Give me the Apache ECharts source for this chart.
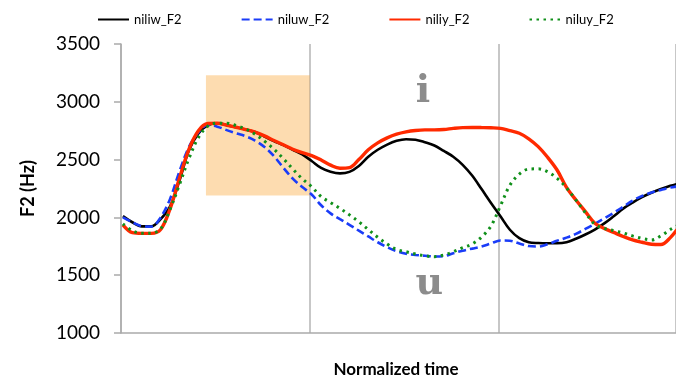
<!DOCTYPE html>
<html>
<head>
<meta charset="utf-8">
<script src="https://cdn.jsdelivr.net/npm/echarts@6/dist/echarts.min.js"></script>
<style>
  html, body { margin: 0; padding: 0; background: #fff; }
  #chart { width: 676px; height: 382px; }
</style>
</head>
<body>
<div id="chart"></div>
<script>
// Normalized time: each vowel segment spans one unit (boundaries at 1 and 2)
const time = [
  0.01, 0.06, 0.11, 0.16, 0.21, 0.26, 0.31, 0.36, 0.41, 0.46,
  0.51, 0.56, 0.61, 0.66, 0.71, 0.76, 0.81, 0.86, 0.91, 0.96,
  1.01, 1.06, 1.11, 1.16, 1.21, 1.26, 1.31, 1.36, 1.41, 1.46,
  1.51, 1.56, 1.61, 1.66, 1.71, 1.76, 1.81, 1.86, 1.91, 1.96,
  2.01, 2.06, 2.11, 2.16, 2.21, 2.26, 2.31, 2.36, 2.41, 2.46,
  2.51, 2.56, 2.61, 2.66, 2.71, 2.76, 2.81, 2.86, 2.91, 2.96
];

// F2 trajectories (Hz)
const niliw = [
  2011, 1958, 1922, 1922, 1985, 2095, 2320, 2580, 2725, 2798,
  2815, 2798, 2780, 2760, 2738, 2700, 2660, 2625, 2585, 2545,
  2488, 2428, 2395, 2381, 2394, 2445, 2525, 2585, 2630, 2662,
  2676, 2672, 2650, 2622, 2575, 2525, 2455, 2362, 2245, 2125,
  2010, 1893, 1820, 1785, 1778, 1776, 1776, 1785, 1815, 1852,
  1895, 1948, 2010, 2075, 2128, 2175, 2213, 2245, 2273, 2295
];
const niluw = [
  2000, 1958, 1925, 1920, 2000, 2160, 2400, 2610, 2735, 2800,
  2785, 2755, 2728, 2702, 2665, 2610, 2530, 2430, 2335, 2262,
  2198, 2105, 2035, 1985, 1936, 1885, 1835, 1785, 1742, 1708,
  1685, 1675, 1668, 1662, 1665, 1690, 1712, 1730, 1748, 1775,
  1800, 1798, 1775, 1752, 1748, 1768, 1798, 1825, 1858, 1900,
  1945, 1992, 2040, 2092, 2145, 2185, 2215, 2238, 2258, 2270
];
const niliy = [
  1935, 1868, 1862, 1862, 1895, 2075, 2340, 2590, 2750, 2812,
  2815, 2798, 2780, 2760, 2738, 2705, 2665, 2628, 2590, 2560,
  2535, 2497, 2452, 2425, 2430, 2500, 2585, 2645, 2688, 2720,
  2740, 2752, 2757, 2757, 2760, 2770, 2777, 2778, 2777, 2775,
  2770, 2750, 2728, 2680, 2612, 2520, 2410, 2260, 2150, 2050,
  1950, 1905, 1870, 1835, 1805, 1785, 1768, 1765, 1825, 1925
];
const niluy = [
  1945, 1885, 1863, 1864, 1900, 2070, 2285, 2510, 2690, 2790,
  2815, 2815, 2795, 2765, 2720, 2660, 2590, 2508, 2418, 2335,
  2265, 2180, 2128, 2078, 2022, 1962, 1895, 1828, 1770, 1722,
  1703, 1683, 1668, 1660, 1675, 1702, 1738, 1770, 1830, 1925,
  2100, 2278, 2375, 2418, 2420, 2395, 2338, 2255, 2150, 2040,
  1940, 1905, 1885, 1865, 1840, 1818, 1805, 1840, 1895, 1940
];

const seriesNames = ['niliw_F2', 'niluw_F2', 'niliy_F2', 'niluy_F2'];
const yTicks = [1000, 1500, 2000, 2500, 3000, 3500];

// Highlighted transition window and vowel labels
const windowX = [0.45, 1.0];
const windowY = [2190, 3230];
const vowelLabels = [
  { text: 'i', t: 1.60, f: 3080 },
  { text: 'u', t: 1.633, f: 1420 }
];

const pair = (xs, ys) => xs.map((x, i) => [x, ys[i]]);

const lineSeries = (name, values, color, width, type) => ({
  name: name,
  type: 'line',
  data: pair(time, values),
  smooth: 0.35,
  symbol: 'none',
  showSymbol: false,
  z: 3,
  lineStyle: { color: color, width: width, type: type, cap: 'butt' },
  itemStyle: { color: color }
});

const chart = echarts.init(document.getElementById('chart'), null, { renderer: 'canvas' });

chart.setOption({
  animation: false,
  backgroundColor: '#ffffff',
  legend: {
    data: seriesNames,
    top: 8,
    left: 92,
    itemWidth: 31,
    itemHeight: 10,
    itemGap: 59,
    itemStyle: { opacity: 0 },
    textStyle: { fontFamily: 'Lato', fontSize: 13, color: '#000' }
  },
  title: {
    text: 'Normalized time',
    left: 391,
    top: 356,
    textAlign: 'center',
    textStyle: { fontFamily: 'Lato', fontWeight: 'bold', fontSize: 17, color: '#000' }
  },
  grid: { left: 121, right: 0, top: 44, bottom: 49, containLabel: false },
  xAxis: {
    type: 'value',
    min: 0,
    max: 2.94,
    interval: 1,
    axisLine: { show: true, lineStyle: { color: '#ababab', width: 1.5 } },
    axisTick: { show: false },
    axisLabel: { show: false },
    splitLine: { show: true, lineStyle: { color: '#b5b5b5', width: 1.5 } }
  },
  yAxis: {
    type: 'value',
    min: yTicks[0],
    max: yTicks[yTicks.length - 1],
    interval: 500,
    name: 'F2 (Hz)',
    nameLocation: 'middle',
    nameGap: 84,
    nameTextStyle: { fontFamily: 'Lato', fontWeight: 'bold', fontSize: 18, color: '#000' },
    axisLine: { show: true, lineStyle: { color: '#ababab', width: 1.5 } },
    axisTick: { show: true, inside: false, length: 7, lineStyle: { color: '#ababab', width: 1.5 } },
    axisLabel: { fontFamily: 'Lato', fontSize: 19, color: '#000', margin: 21, formatter: v => String(v) },
    splitLine: { show: false }
  },
  series: [
    lineSeries(seriesNames[0], niliw, '#000000', 2.6, 'solid'),
    lineSeries(seriesNames[1], niluw, '#1a3cf8', 2.6, [8, 4]),
    lineSeries(seriesNames[2], niliy, '#ff2a00', 3.4, 'solid'),
    lineSeries(seriesNames[3], niluy, '#10901a', 3, [2.5, 4.5]),
    {
      // translucent window overlaid on the trajectories, plus vowel labels
      name: 'overlay',
      type: 'line',
      data: [],
      z: 10,
      silent: true,
      markArea: {
        silent: true,
        itemStyle: { color: 'rgba(249,155,29,0.35)' },
        data: [[
          { coord: [windowX[0], windowY[1]] },
          { coord: [windowX[1], windowY[0]] }
        ]]
      },
      markPoint: {
        silent: true,
        symbol: 'circle',
        symbolSize: 0,
        data: vowelLabels.map(v => ({
          coord: [v.t, v.f],
          label: {
            show: true,
            position: 'inside',
            formatter: v.text,
            fontFamily: 'DejaVu Serif',
            fontWeight: 'bold',
            fontSize: 38,
            color: '#8c8c8c'
          }
        }))
      }
    }
  ]
});
</script>
</body>
</html>
